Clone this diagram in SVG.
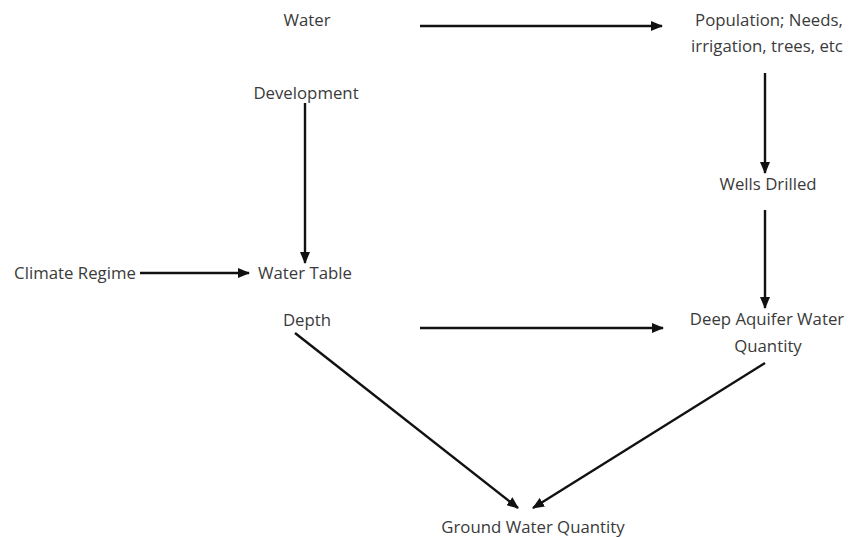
<svg xmlns="http://www.w3.org/2000/svg" width="852" height="537" viewBox="0 0 852 537">
<style>
text{font-family:"Open Sans","Liberation Sans",sans-serif;font-size:16.8px;fill:#3a3a3a;text-anchor:middle}
.c line{stroke:#111;stroke-width:2.4;marker-end:url(#ah)}
</style>
<defs>
<marker id="ah" markerWidth="12" markerHeight="10" refX="11" refY="5" orient="auto" markerUnits="userSpaceOnUse">
<path d="M0,0 L12,5 L0,10 z" fill="#111"/>
</marker>
</defs>
<rect width="852" height="537" fill="#fff"/>
<g class="c" id="connectors">
<line x1="420" y1="26" x2="662" y2="26"/>
<line x1="765" y1="73" x2="765" y2="173"/>
<line x1="765" y1="210" x2="765" y2="308"/>
<line x1="305" y1="103" x2="305" y2="263"/>
<line x1="140" y1="273" x2="249" y2="273"/>
<line x1="420" y1="328" x2="663" y2="328"/>
<line x1="295" y1="333" x2="518" y2="508"/>
<line x1="765" y1="363" x2="533" y2="508"/>
</g>
<g id="n-water"><text x="307" y="26">Water</text></g>
<g id="n-population"><text x="769" y="26">Population; Needs,</text><text x="767" y="52">irrigation, trees, etc</text></g>
<g id="n-development"><text x="306" y="99">Development</text></g>
<g id="n-wells"><text x="768" y="190">Wells Drilled</text></g>
<g id="n-climate"><text x="75" y="279">Climate Regime</text></g>
<g id="n-watertable"><text x="305" y="279">Water Table</text></g>
<g id="n-depth"><text x="307" y="326">Depth</text></g>
<g id="n-deep"><text x="767" y="325">Deep Aquifer Water</text><text x="768" y="352">Quantity</text></g>
<g id="n-ground"><text x="533" y="533">Ground Water Quantity</text></g>
</svg>
